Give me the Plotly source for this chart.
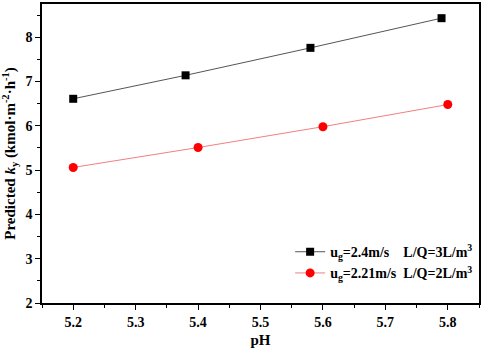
import plotly.graph_objects as go

ph_black = [5.2, 5.38, 5.58, 5.79]
ky_black = [6.61, 7.14, 7.76, 8.43]
ph_red = [5.2, 5.4, 5.6, 5.8]
ky_red = [5.06, 5.51, 5.98, 6.48]

x_ticks = [5.2, 5.3, 5.4, 5.5, 5.6, 5.7, 5.8]
y_ticks = [2, 3, 4, 5, 6, 7, 8]

name_black = "<b>u<sub>g</sub>=2.4m/s    L/Q=3L/m<sup>3</sup></b>"
name_red = "<b>u<sub>g</sub>=2.21m/s  L/Q=2L/m<sup>3</sup></b>"

font = "Liberation Serif, Times New Roman, serif"

fig = go.Figure()
fig.add_trace(go.Scatter(x=ph_black, y=ky_black, mode="lines+markers", name=name_black,
                         line=dict(color="#555555", width=1),
                         marker=dict(symbol="square", size=8, color="black")))
fig.add_trace(go.Scatter(x=ph_red, y=ky_red, mode="lines+markers", name=name_red,
                         line=dict(color="#f08080", width=1),
                         marker=dict(symbol="circle", size=9, color="red")))

axis_common = dict(showline=True, linecolor="black", linewidth=1.5, mirror=True,
                   ticks="outside", ticklen=5, tickwidth=1.2, tickcolor="black",
                   showgrid=False, zeroline=False, automargin=False,
                   tickfont=dict(family=font, size=14, color="black"))

fig.update_layout(
    width=484, height=352,
    margin=dict(l=42, r=5, t=4, b=49),
    plot_bgcolor="white", paper_bgcolor="white",
    font=dict(family=font, color="black"),
    xaxis=dict(range=[5.15, 5.85], tickvals=x_ticks,
               ticktext=[f"<b>{v}</b>" for v in x_ticks],
               minor=dict(dtick=0.05, tick0=5.15, ticks="outside", ticklen=3, tickcolor="black"),
               title=dict(text="<b>pH</b>", font=dict(family=font, size=15, color="black"), standoff=6),
               **axis_common),
    yaxis=dict(range=[2, 8.75], tickvals=y_ticks,
               ticktext=[f"<b>{v}</b>" for v in y_ticks],
               minor=dict(dtick=0.5, tick0=2, ticks="outside", ticklen=3, tickcolor="black"),
               title=dict(text="<b>Predicted <i>k</i><sub>y</sub> (kmol·m<sup>-2</sup>·h<sup>-1</sup>)</b>",
                          font=dict(family=font, size=15, color="black"), standoff=6),
               **axis_common),
    legend=dict(x=0.998, y=0.135, xanchor="right", yanchor="middle",
                bgcolor="rgba(0,0,0,0)", borderwidth=0,
                font=dict(family=font, size=14, color="black"),
                tracegroupgap=4, itemwidth=30),
)

fig.write_html("out.html", config={"displayModeBar": False},
               post_script="document.body.style.margin='0';")
